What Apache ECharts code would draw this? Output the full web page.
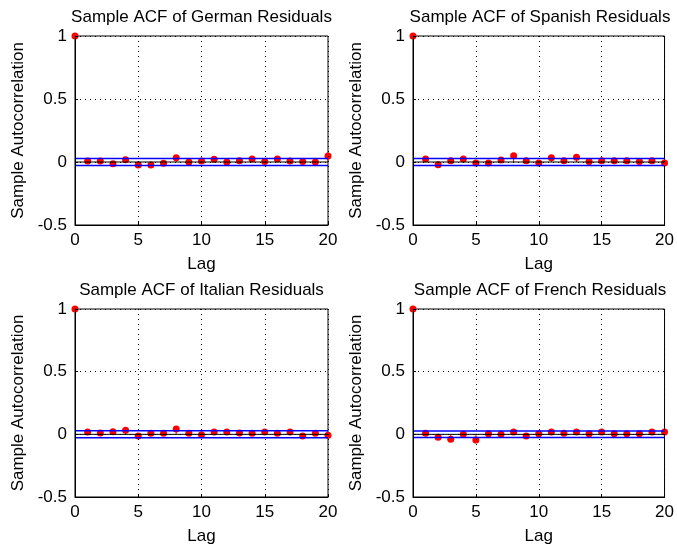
<!DOCTYPE html>
<html><head><meta charset="utf-8">
<script src="https://cdn.jsdelivr.net/npm/echarts@6/dist/echarts.min.js"></script>
<style>html,body{margin:0;padding:0;background:#fff}#c{width:677px;height:554px}</style>
</head><body><div id="c"></div>
<script>
var lags = [0,1,2,3,4,5,6,7,8,9,10,11,12,13,14,15,16,17,18,19,20];
var titles = ['Sample ACF of German Residuals','Sample ACF of Spanish Residuals','Sample ACF of Italian Residuals','Sample ACF of French Residuals'];
var german  = [1,0.008,0.008,-0.013,0.018,-0.024,-0.024,-0.010,0.034,0.000,0.008,0.021,0.000,0.010,0.024,0.003,0.024,0.008,0.003,0.000,0.047];
var spanish = [1,0.024,-0.021,0.010,0.024,-0.008,-0.008,0.016,0.050,0.010,-0.008,0.034,0.010,0.037,0.003,0.010,0.010,0.010,0.003,0.010,-0.008];
var italian = [1,0.018,0.010,0.021,0.032,-0.013,0.008,0.008,0.042,0.008,-0.003,0.018,0.018,0.010,0.008,0.018,0.008,0.018,-0.013,0.008,-0.008];
var french  = [1,0.008,-0.024,-0.040,0.000,-0.045,0.005,0.000,0.018,-0.013,0.005,0.018,0.008,0.018,0.005,0.018,0.005,0.005,0.005,0.018,0.018];
var bounds = [0.028,0.028,0.028,0.026];
var xTicks = [0,5,10,15,20];
var yTicks = [-0.5,0,0.5,1];

var all = [german,spanish,italian,french];
var boxes = [[75,36,253,189],[413,36,254,189],[75,309,253,188],[413,309,254,188]];
var font = 'Liberation Sans';
var fs = 17;
var option = {animation:false,backgroundColor:'#fff',title:[],grid:[],xAxis:[],yAxis:[],series:[]};
all.forEach(function(vals,i){
  var b = boxes[i];
  option.title.push({text:titles[i],left:b[0]+b[2]/2,top:b[1]-27,textAlign:'center',padding:0,
    textStyle:{fontFamily:font,fontSize:fs,fontWeight:'normal',color:'#000'}});
  option.grid.push({left:b[0],top:b[1],width:b[2],height:b[3],show:true,borderColor:'#000',borderWidth:1,backgroundColor:'transparent'});
  option.xAxis.push({type:'value',gridIndex:i,min:xTicks[0],max:xTicks[xTicks.length-1],interval:5,z:10,
    name:'Lag',nameLocation:'middle',nameGap:31,nameTextStyle:{fontFamily:font,fontSize:fs,color:'#000'},
    axisLine:{show:true,onZero:false,lineStyle:{color:'#000',width:1}},
    axisTick:{show:true,inside:true,length:3,lineStyle:{color:'#000'}},
    axisLabel:{fontFamily:font,fontSize:fs,color:'#000',margin:7},
    splitLine:{show:true,lineStyle:{color:'#000',type:[1,4],width:1}}});
  option.yAxis.push({type:'value',gridIndex:i,min:yTicks[0],max:yTicks[yTicks.length-1],interval:0.5,z:10,
    name:'Sample Autocorrelation',nameLocation:'middle',nameGap:48,nameTextStyle:{fontFamily:font,fontSize:fs,color:'#000'},
    axisLine:{show:true,onZero:false,lineStyle:{color:'#000',width:1}},
    axisTick:{show:true,inside:true,length:3,lineStyle:{color:'#000'}},
    axisLabel:{fontFamily:font,fontSize:fs,color:'#000',margin:8},
    splitLine:{show:true,lineStyle:{color:'#000',type:[1,4],width:1}}});
  var pts = lags.map(function(l,k){return [l,vals[k]];});
  var stems = pts.filter(function(p){return p[0]>0;});
  option.series.push({type:'bar',xAxisIndex:i,yAxisIndex:i,data:stems,barWidth:1,itemStyle:{color:'#ff0000'},z:2,silent:true});
  option.series.push({type:'scatter',xAxisIndex:i,yAxisIndex:i,data:pts,symbolSize:7,itemStyle:{color:'#ff0000',opacity:1},z:3,silent:true});
  option.series.push({type:'line',xAxisIndex:i,yAxisIndex:i,data:[[0,0],[20,0]],symbol:'none',lineStyle:{color:'#000',width:1},z:4,silent:true});
  option.series.push({type:'line',xAxisIndex:i,yAxisIndex:i,data:[[0,bounds[i]],[20,bounds[i]]],symbol:'none',lineStyle:{color:'#0000ff',width:1.5},z:4,silent:true});
  option.series.push({type:'line',xAxisIndex:i,yAxisIndex:i,data:[[0,-bounds[i]],[20,-bounds[i]]],symbol:'none',lineStyle:{color:'#0000ff',width:1.5},z:4,silent:true});
});
var chart = echarts.init(document.getElementById('c'),null,{renderer:'canvas'});
chart.setOption(option);
</script></body></html>
